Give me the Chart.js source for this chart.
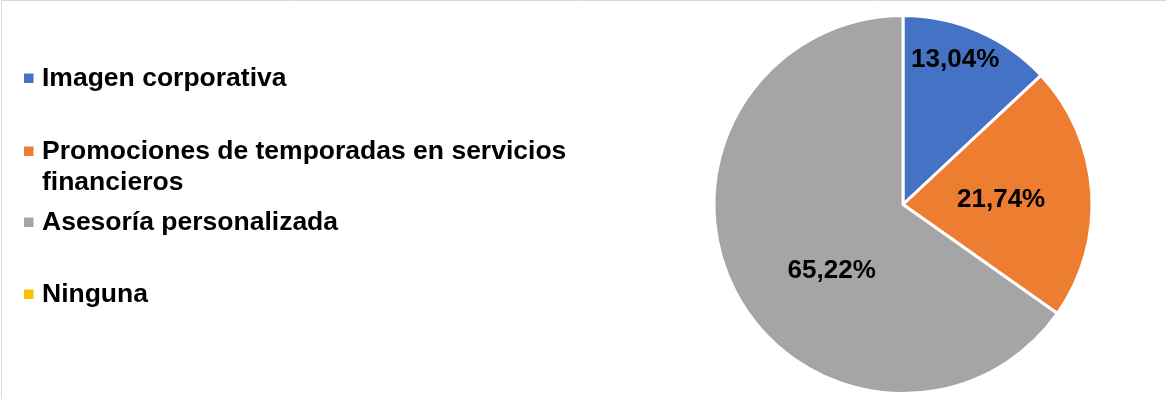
<!DOCTYPE html>
<html>
<head>
<meta charset="utf-8">
<script src="https://cdn.jsdelivr.net/npm/chart.js@4/dist/chart.umd.min.js"></script>
<style>
  html, body { margin: 0; padding: 0; background: #ffffff; }
  #wrap { position: relative; width: 1166px; height: 399px; }
</style>
</head>
<body>
<div id="wrap"><canvas id="chart" width="1166" height="399"></canvas></div>
<script>
// Survey answers and their shares (%)
const categories = [
  ['Imagen corporativa'],
  ['Promociones de temporadas en servicios', 'financieros'],
  ['Asesoría personalizada'],
  ['Ninguna']
];
const shares = [13.04, 21.74, 65.22, 0];
const shareLabels = ['13,04%', '21,74%', '65,22%', ''];

const sliceColors = ['#4472C4', '#ED7D31', '#A5A5A5', '#FFC000'];
const FONT = '"Liberation Sans", Arial, sans-serif';

// Legend layout: vertical centre of each entry's first line
const legendRows = [78, 151, 222, 294];
const legendLineGap = 31;

// Where each percentage sits inside its slice: fraction of radius and angle shift (deg)
const labelPlacement = [
  { r: 0.82, shift: -3.8 },
  { r: 0.52, shift: 0.7 },
  { r: 0.51, shift: -14.9 },
  { r: 0.5, shift: 0 }
];

const framePlugin = {
  id: 'frame',
  beforeDraw(chart) {
    const ctx = chart.ctx;
    ctx.save();
    ctx.strokeStyle = '#d9d9d9';
    ctx.lineWidth = 1;
    ctx.beginPath();
    ctx.moveTo(1.5, 399);
    ctx.lineTo(1.5, 0.5);
    ctx.lineTo(1166, 0.5);
    ctx.stroke();
    ctx.restore();
  }
};

const legendPlugin = {
  id: 'sideLegend',
  afterDraw(chart) {
    const ctx = chart.ctx;
    ctx.save();
    ctx.font = 'bold 26.5px ' + FONT;
    ctx.textBaseline = 'middle';
    ctx.textAlign = 'left';
    categories.forEach((lines, i) => {
      const y = legendRows[i];
      ctx.fillStyle = sliceColors[i];
      ctx.fillRect(24, y - 4.5, 9.5, 9.5);
      ctx.fillStyle = '#000000';
      lines.forEach((txt, k) => {
        ctx.fillText(txt, 42, y + 1 + k * legendLineGap);
      });
    });
    ctx.restore();
  }
};

const valueLabelPlugin = {
  id: 'valueLabels',
  afterDatasetsDraw(chart) {
    const ctx = chart.ctx;
    const meta = chart.getDatasetMeta(0);
    ctx.save();
    ctx.font = 'bold 26px ' + FONT;
    ctx.fillStyle = '#000000';
    ctx.textAlign = 'center';
    ctx.textBaseline = 'middle';
    meta.data.forEach((arc, i) => {
      if (!shares[i]) return;
      const p = arc.getProps(['x', 'y', 'startAngle', 'endAngle', 'outerRadius'], true);
      const mid = (p.startAngle + p.endAngle) / 2 + labelPlacement[i].shift * Math.PI / 180;
      const d = p.outerRadius * labelPlacement[i].r;
      ctx.fillText(shareLabels[i], p.x + Math.cos(mid) * d, p.y + Math.sin(mid) * d + 1);
    });
    ctx.restore();
  }
};

new Chart(document.getElementById('chart'), {
  type: 'pie',
  data: {
    labels: categories.map(l => l.join(' ')),
    datasets: [{
      data: shares,
      backgroundColor: sliceColors,
      borderColor: '#ffffff',
      borderWidth: 3
    }]
  },
  options: {
    responsive: false,
    animation: false,
    layout: { padding: { left: 710, right: 70, top: 14, bottom: 4 } },
    plugins: {
      legend: { display: false },
      tooltip: { enabled: false }
    }
  },
  plugins: [framePlugin, legendPlugin, valueLabelPlugin]
});
</script>
</body>
</html>
